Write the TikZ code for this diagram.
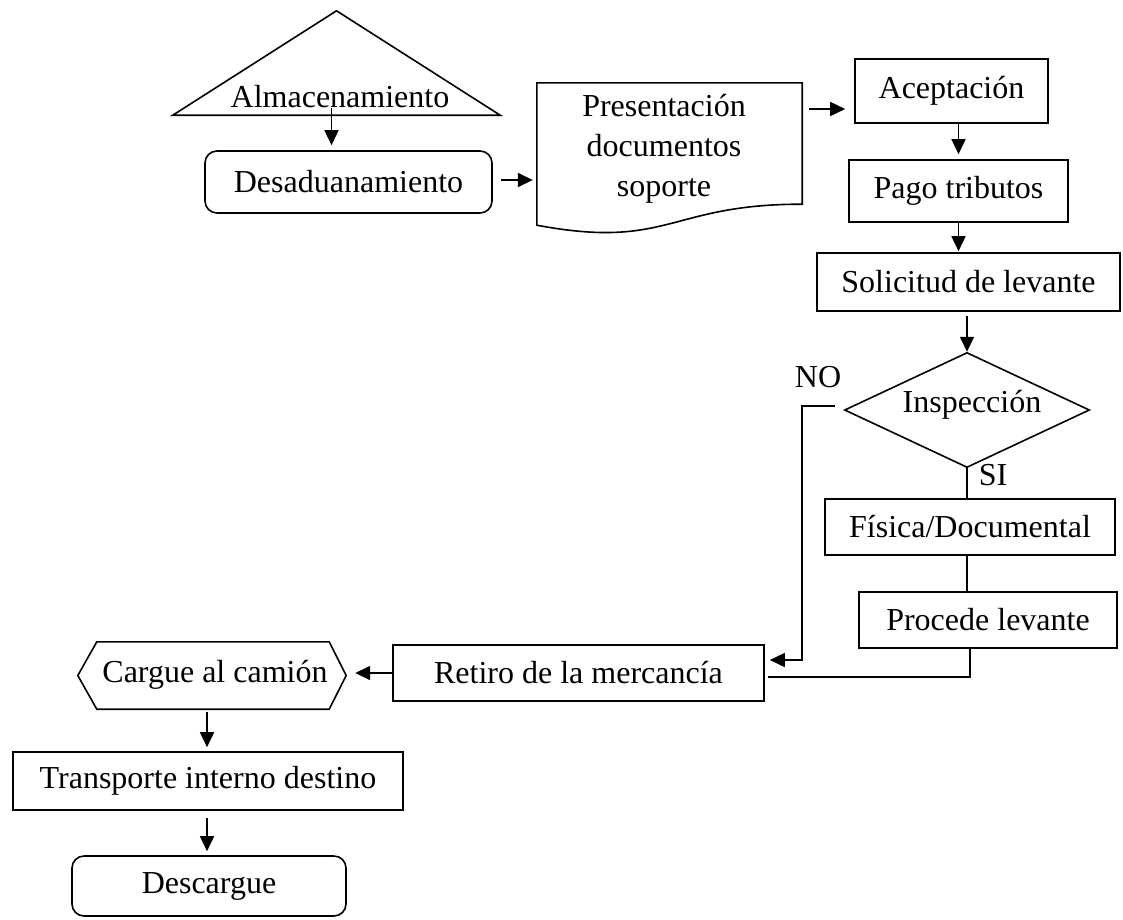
\documentclass[tikz,border=0pt]{standalone}
\usepackage{fontspec}
\setmainfont{Liberation Serif}
\usetikzlibrary{arrows.meta,calc}
\begin{document}
\begin{tikzpicture}[x=1pt,y=-1pt,
  every node/.style={font=\fontsize{32}{40}\selectfont, inner sep=0pt},
  box/.style={draw, line width=1.6pt, minimum width=#1, rectangle},
  rbox/.style={draw, line width=1.6pt, minimum width=#1, rectangle, rounded corners=12pt},
  ghost/.style={minimum width=#1, rectangle},
  shp/.style={draw, line width=1.6pt},
  arr/.style={line width=1.6pt, -{Triangle[length=15pt,width=14pt]}},
  ln/.style={line width=1.6pt}]
\useasboundingbox[fill=white] (0,0) rectangle (1123,919);

% Almacenamiento (triangle)
\node[ghost=327pt, minimum height=104pt] (alm) at (336.5,63) {};
\draw[shp, line join=miter] (alm.south west) -- (alm.north) -- (alm.south east) -- cycle;
\node (almtext) at (340,97) {Almacenamiento};

% Desaduanamiento
\node[rbox=287pt, minimum height=62pt] (desa) at (348.5,182) {Desaduanamiento};

% Document shape
\node[ghost=265pt, minimum height=142pt] (doc) at (669.5,154) {};
\draw[shp] (doc.south west) -- (doc.north west) -- (doc.north east) -- ([yshift=21pt]doc.south east)
  .. controls (669,204) and (669,250) .. (doc.south west) -- cycle;
\node[align=center] (doctext) at (664,149) {Presentación\\documentos\\soporte};

% Right column
\node[box=193pt, minimum height=64pt] (acep) at (951.5,91) {Aceptación};
\node[box=219pt, minimum height=62pt] (pago) at (958.5,191) {Pago tributos};
\node[box=303pt, minimum height=58pt] (solic) at (968.5,282) {Solicitud de levante};

% Inspection diamond
\node[ghost=244pt, minimum height=114pt] (insp) at (967,410) {};
\draw[shp] (insp.north) -- (insp.east) -- (insp.south) -- (insp.west) -- cycle;
\node (insptext) at (972,405) {Inspección};

\node (no) at (818,377) {NO};
\node (si) at (993,475) {SI};

\node[box=290pt, minimum height=56pt] (fis) at (970,527) {Física/Documental};
\node[box=258pt, minimum height=56pt] (proc) at (988,620) {Procede levante};
\node[box=371pt, minimum height=56pt] (retiro) at (578.5,673) {Retiro de la mercancía};

% Cargue hexagon
\node[ghost=268pt, minimum height=67pt] (cargue) at (212,675.5) {};
\draw[shp] (cargue.west) -- ([xshift=19pt]cargue.north west) -- ([xshift=-17pt]cargue.north east)
  -- (cargue.east) -- ([xshift=-17pt]cargue.south east) -- ([xshift=19pt]cargue.south west) -- cycle;
\node (carguetext) at (215,675) {Cargue al camión};

\node[box=390pt, minimum height=58pt] (trans) at (208,781) {Transporte interno destino};
\node[rbox=274pt, minimum height=60pt] (desc) at (209,886) {Descargue};

% Connectors
\draw[arr, shorten >=5pt] ([xshift=-5pt,yshift=7pt]alm.south) -- ([xshift=-5pt]alm.south |- desa.north);
\draw[arr, shorten <=8pt, shorten >=4pt] ([yshift=2pt]desa.east) -- ([yshift=2pt]desa.east -| doc.west);
\coordinate (dA) at (809,109);
\draw[arr, shorten >=9pt] (dA) -- (dA -| acep.west);
\draw[arr, shorten >=5pt] (pago.north |- acep.south) -- (pago.north);
\draw[arr, shorten >=1pt] (pago.south) -- (pago.south |- solic.north);
\draw[arr, shorten <=4pt, shorten >=1pt] (insp.north |- solic.south) -- (insp.north);
\coordinate (noC) at (802,660);
\draw[arr, shorten >=5pt] ([xshift=-10pt,yshift=4pt]insp.west) -| (noC) -- (noC -| retiro.east);
\draw[ln] (insp.south) -- (insp.south |- fis.north);
\draw[ln] (insp.south |- fis.south) -- (insp.south |- proc.north);
\coordinate (pr) at (970,677);
\draw[ln] (pr |- proc.south) -- (pr) -- ([xshift=3pt]pr -| retiro.east);
\draw[arr, shorten >=9pt] (retiro.west) -- (retiro.west -| cargue.east);
\draw[arr, shorten <=3pt, shorten >=4pt] ([xshift=-5pt]cargue.south) -- ([xshift=-5pt]cargue.south |- trans.north);
\draw[arr, shorten <=7pt, shorten >=4pt] ([xshift=-1pt]trans.south) -- ([xshift=-1pt]trans.south |- desc.north);
\end{tikzpicture}
\end{document}
